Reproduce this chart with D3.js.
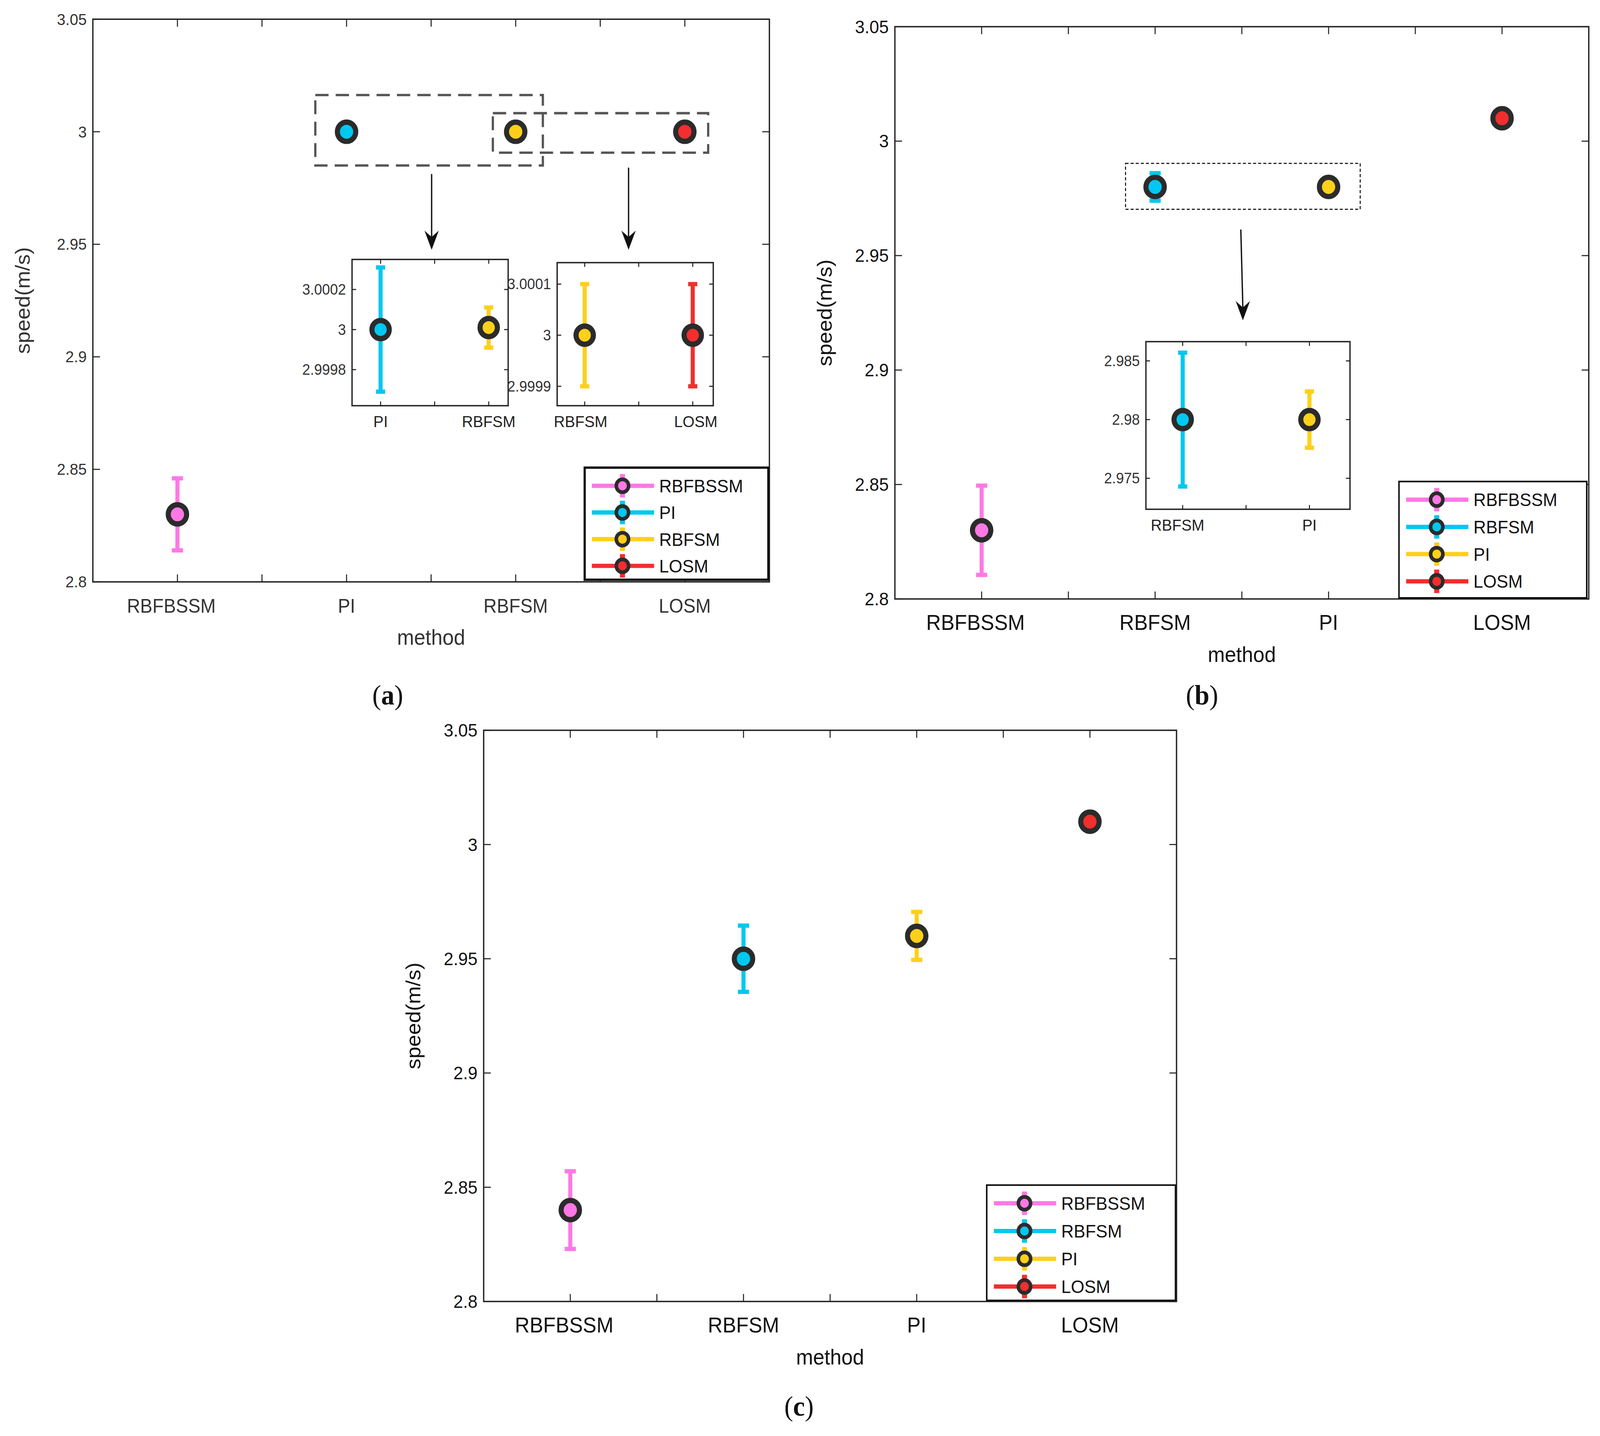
<!DOCTYPE html>
<html><head><meta charset="utf-8">
<script src="https://cdn.jsdelivr.net/npm/d3@7"></script>
<style>html,body{margin:0;padding:0;background:#fff;overflow:hidden}svg{display:block}</style></head>
<body><svg id="s"></svg>
<script>
// ---- data ----
const catsA = ["RBFBSSM","PI","RBFSM","LOSM"];
const valsA = [2.83, 3.0, 3.0, 3.0];
const errA  = [0.016, 0.0006, 0.0006, 0.0006];
const catsB = ["RBFBSSM","RBFSM","PI","LOSM"];
const valsB = [2.83, 2.98, 2.98, 3.01];
const errB  = [0.0195, 0.006, 0.0028, 0.0015];
const catsC = ["RBFBSSM","RBFSM","PI","LOSM"];
const valsC = [2.84, 2.95, 2.96, 3.01];
const errC  = [0.017, 0.0145, 0.0105, 0.0015];
const yTicks = [2.8, 2.85, 2.9, 2.95, 3, 3.05];
// insets
const insA1Cats = ["PI","RBFSM"], insA1Vals = [3.0, 3.00001], insA1Err = [0.00031, 0.0001];
const insA1Ticks = [2.9998, 3, 3.0002];
const insA2Cats = ["RBFSM","LOSM"], insA2Vals = [3.0, 3.0], insA2Err = [0.0001, 0.0001];
const insA2Ticks = [2.9999, 3, 3.0001];
const insBCats = ["RBFSM","PI"], insBVals = [2.98, 2.98], insBErr = [0.0057, 0.0024];
const insBTicks = [2.975, 2.98, 2.985];
const colorA = {"RBFBSSM":"#ff78e6","PI":"#00c8f0","RBFSM":"#ffd01a","LOSM":"#f22e2e"};
const colorBC = {"RBFBSSM":"#ff78e6","RBFSM":"#00c8f0","PI":"#ffd01a","LOSM":"#f22e2e"};

const svg = d3.select("#s").attr("width","100vw").attr("height","100vh").attr("viewBox","0 0 1568 1345").attr("preserveAspectRatio","none");
const FONT = "Liberation Sans, Arial, sans-serif";

function marks(g, x, y, cats, vals, errs, colors, r, capW){
  cats.forEach((c,i)=>{
    const cx = x(i+1), col = colors[c];
    const y1 = y(vals[i]+errs[i]), y2 = y(vals[i]-errs[i]);
    g.append("line").attr("x1",cx).attr("x2",cx).attr("y1",y1).attr("y2",y2).attr("stroke",col).attr("stroke-width",4);
    [y1,y2].forEach(yy=>g.append("line").attr("x1",cx-capW/2).attr("x2",cx+capW/2).attr("y1",yy).attr("y2",yy).attr("stroke",col).attr("stroke-width",4));
    g.append("circle").attr("cx",cx).attr("cy",y(vals[i])).attr("r",r).attr("fill",col).attr("stroke","#2b2b2b").attr("stroke-width",5);
  });
}

function frame(g, x, y, xt, yt, x0,x1,y0,y1, fs, fmt, tickCol, tl){
  g.append("rect").attr("x",x0).attr("y",y0).attr("width",x1-x0).attr("height",y1-y0).attr("fill","none").attr("stroke","#222").attr("stroke-width",1.3);
  xt.forEach(t=>{const xx=x(t);
    g.append("line").attr("x1",xx).attr("x2",xx).attr("y1",y1).attr("y2",y1-tl).attr("stroke","#222");
    g.append("line").attr("x1",xx).attr("x2",xx).attr("y1",y0).attr("y2",y0+tl).attr("stroke","#222");});
  yt.forEach(t=>{const yy=y(t);
    g.append("line").attr("x1",x0).attr("x2",x0+tl).attr("y1",yy).attr("y2",yy).attr("stroke","#222");
    g.append("line").attr("x1",x1).attr("x2",x1-tl).attr("y1",yy).attr("y2",yy).attr("stroke","#222");
    g.append("text").attr("x",x0-6).attr("y",yy).attr("dy","0.35em").attr("text-anchor","end").attr("font-size",fs).attr("font-family",FONT).attr("fill",tickCol).text(fmt(t));});
}

function mainPanel(cfg){
  const g = svg.append("g");
  const x = d3.scaleLinear().domain([0.5,4.5]).range([cfg.x0,cfg.x1]);
  const y = d3.scaleLinear().domain([2.8,3.05]).range([cfg.y1,cfg.y0]);
  frame(g,x,y,d3.range(1,4.01,0.5),yTicks,cfg.x0,cfg.x1,cfg.y0,cfg.y1,cfg.fs,d3.format(""),cfg.tc,7);
  cfg.cats.forEach((c,i)=>g.append("text").attr("x",x(i+1)-(i==0?6:0)).attr("y",cfg.y1+29).attr("text-anchor","middle").attr("font-size",cfg.fs+3).attr("font-family",FONT).attr("fill",cfg.tc).text(c));
  g.append("text").attr("x",(cfg.x0+cfg.x1)/2).attr("y",cfg.y1+59).attr("text-anchor","middle").attr("font-size",20).attr("font-family",FONT).attr("fill",cfg.tc).text("method");
  g.append("text").attr("transform",`translate(${cfg.x0-62},${(cfg.y0+cfg.y1)/2}) rotate(-90)`).attr("text-anchor","middle").attr("font-size",20).attr("font-family",FONT).attr("fill",cfg.tc).text("speed(m/s)");
  marks(g,x,y,cfg.cats,cfg.vals,cfg.errs,cfg.colors,9,11);
  const L=cfg.leg;
  g.append("rect").attr("x",L.x).attr("y",L.y).attr("width",L.w).attr("height",L.h).attr("fill","#fff").attr("stroke","#111").attr("stroke-width",L.sw);
  cfg.cats.forEach((c,i)=>{const yy=L.y+17+i*L.dy, col=cfg.colors[c], cx=L.x+37;
    g.append("line").attr("x1",L.x+7).attr("x2",L.x+68).attr("y1",yy).attr("y2",yy).attr("stroke",col).attr("stroke-width",4);
    g.append("line").attr("x1",cx).attr("x2",cx).attr("y1",yy-11).attr("y2",yy+11).attr("stroke",col).attr("stroke-width",5);
    g.append("circle").attr("cx",cx).attr("cy",yy).attr("r",6).attr("fill",col).attr("stroke","#2b2b2b").attr("stroke-width",3.5);
    g.append("text").attr("x",L.x+73).attr("y",yy).attr("dy","0.36em").attr("font-size",17).attr("font-family",FONT).attr("fill","#111").text(c);});
  return {g,x,y};
}

function inset(g, cfg){
  const x = d3.scaleLinear().domain(cfg.xd).range([cfg.x0,cfg.x1]);
  const y = d3.scaleLinear().domain(cfg.yd).range([cfg.y1,cfg.y0]);
  g.append("rect").attr("x",cfg.x0).attr("y",cfg.y0).attr("width",cfg.x1-cfg.x0).attr("height",cfg.y1-cfg.y0).attr("fill","#fff");
  frame(g,x,y,[1,1.5,2],cfg.ticks,cfg.x0,cfg.x1,cfg.y0,cfg.y1,14,d3.format(""),"#333",4);
  cfg.cats.forEach((c,i)=>g.append("text").attr("x",x(i+1)+(cfg.lo?cfg.lo[i]:0)).attr("y",cfg.y1+20).attr("text-anchor","middle").attr("font-size",15).attr("font-family",FONT).attr("fill","#222").text(c));
  marks(g,x,y,cfg.cats,cfg.vals,cfg.errs,cfg.colors,8.5,9);
}

function arrow(g,x1,y1,x2,y2){
  g.append("line").attr("x1",x1).attr("y1",y1).attr("x2",x2).attr("y2",y2-12).attr("stroke","#111").attr("stroke-width",1.3);
  g.append("path").attr("d",`M${x2-7},${y2-18} L${x2},${y2} L${x2+7},${y2-18} L${x2},${y2-12} Z`).attr("fill","#111");
}

const A = mainPanel({x0:91,x1:754,y0:18,y1:545,cats:catsA,vals:valsA,errs:errA,colors:colorA,fs:15,tc:"#333",
  leg:{x:573,y:438,w:180,h:105,dy:25,sw:2.2}});
A.g.append("rect").attr("x",309).attr("y",89).attr("width",223).attr("height",66).attr("fill","none").attr("stroke","#555").attr("stroke-width",2.2).attr("stroke-dasharray","13,7");
A.g.append("rect").attr("x",483).attr("y",106).attr("width",211).attr("height",37).attr("fill","none").attr("stroke","#555").attr("stroke-width",2.2).attr("stroke-dasharray","13,7");
arrow(A.g,423,163,423,234); arrow(A.g,616,157,616,234);
inset(A.g,{x0:345,x1:498,y0:243,y1:380,xd:[0.736,2.18],yd:[2.99962,3.00035],ticks:insA1Ticks,cats:insA1Cats,vals:insA1Vals,errs:insA1Err,colors:colorA});
inset(A.g,{x0:546,x1:699,y0:246,y1:380,xd:[0.745,2.19],yd:[2.999862,3.000142],ticks:insA2Ticks,cats:insA2Cats,vals:insA2Vals,errs:insA2Err,colors:colorA,lo:[-4,3]});

const B = mainPanel({x0:877,x1:1557,y0:25,y1:561,cats:catsB,vals:valsB,errs:errB,colors:colorBC,fs:17,tc:"#111",
  leg:{x:1371,y:451,w:184,h:109,dy:25.5,sw:1.5}});
B.g.append("rect").attr("x",1103).attr("y",153).attr("width",230).attr("height",43).attr("fill","none").attr("stroke","#111").attr("stroke-width",1).attr("stroke-dasharray","3,2");
arrow(B.g,1216,215,1218,300);
inset(B.g,{x0:1123,x1:1323,y0:320,y1:477,xd:[0.71,2.32],yd:[2.97236,2.98664],ticks:insBTicks,cats:insBCats,vals:insBVals,errs:insBErr,colors:colorBC,lo:[-5,0]});

mainPanel({x0:474,x1:1153,y0:684,y1:1219,cats:catsC,vals:valsC,errs:errC,colors:colorBC,fs:17,tc:"#111",
  leg:{x:967,y:1110,w:185,h:108,dy:26,sw:1.5}});

[["a",380,660],["b",1178,660],["c",783,1326]].forEach(([l,xx,yy])=>{
  const t=svg.append("text").attr("x",xx).attr("y",yy).attr("text-anchor","middle").attr("font-size",26).attr("font-family","Liberation Serif, Times New Roman, serif").attr("fill","#111");
  t.append("tspan").text("(");t.append("tspan").attr("font-weight","bold").text(l);t.append("tspan").text(")");});
</script></body></html>
